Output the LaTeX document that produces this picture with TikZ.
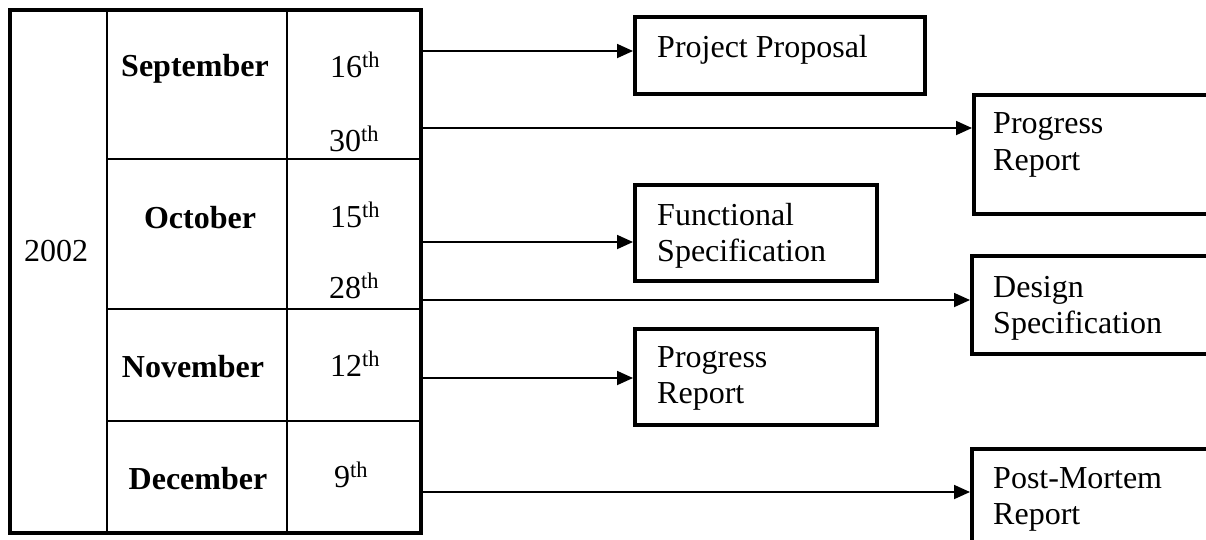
\documentclass[tikz,border=0pt]{standalone}
\usepackage{fontspec}
\setmainfont{Liberation Serif}
\usetikzlibrary{arrows.meta}
\begin{document}
\begin{tikzpicture}[x=1pt,y=-1pt,
  outerline/.style={line width=4pt},
  gridline/.style={line width=2pt},
  box/.style={draw,line width=4pt,rectangle,inner sep=0pt,anchor=north west},
  lbl/.style={font=\fontsize{32}{37}\selectfont,anchor=base west,inner sep=0pt},
  cell/.style={font=\fontsize{32}{37}\selectfont,anchor=base,inner sep=0pt},
  month/.style={cell,font=\fontsize{32}{37}\selectfont\bfseries},
  conn/.style={line width=1.8pt,-{Triangle[length=16pt,width=14pt]}}]
\path[use as bounding box] (0,0) rectangle (1206,539);
\clip (0,0) rectangle (1206,539);
% table
\draw[outerline] (10,10) rectangle (421,533);
\draw[gridline] (107,10) -- (107,533);
\draw[gridline] (287,10) -- (287,533);
\draw[gridline] (107,159) -- (421,159);
\draw[gridline] (107,309) -- (421,309);
\draw[gridline] (107,421) -- (421,421);
\node[cell] (year) at (56,261) {2002};
\node[month] (sep) at (195,76) {September};
\node[month] (oct) at (200,228) {October};
\node[month] (nov) at (193,377) {November};
\node[month] (dec) at (198,489) {December};
\node[cell] (d16) at (355,77) {16\textsuperscript{th}};
\node[cell] (d30) at (354,151) {30\textsuperscript{th}};
\node[cell] (d15) at (355,227) {15\textsuperscript{th}};
\node[cell] (d28) at (354,298) {28\textsuperscript{th}};
\node[cell] (d12) at (355,376) {12\textsuperscript{th}};
\node[cell] (d9) at (351,487) {9\textsuperscript{th}};
% boxes
\node[box,minimum width=290pt,minimum height=77pt] (pp) at (633,15) {};
\node[box,minimum width=270pt,minimum height=119pt] (pra) at (972,93) {};
\node[box,minimum width=242pt,minimum height=96pt] (fs) at (633,183) {};
\node[box,minimum width=270pt,minimum height=98pt] (ds) at (970,254) {};
\node[box,minimum width=242pt,minimum height=96pt] (prb) at (633,327) {};
\node[box,minimum width=270pt,minimum height=120pt] (pm) at (970,447) {};
\node[lbl] (ppt) at (657,57) {Project Proposal};
\node[lbl] (prat1) at (993,133) {Progress};
\node[lbl] (prat2) at (993,170) {Report};
\node[lbl] (fst1) at (657,225) {Functional};
\node[lbl] (fst2) at (657,261) {Specification};
\node[lbl] (prbt1) at (657,367) {Progress};
\node[lbl] (prbt2) at (657,403) {Report};
\node[lbl] (dst1) at (993,297) {Design};
\node[lbl] (dst2) at (993,333) {Specification};
\node[lbl] (pmt1) at (993,488) {Post-Mortem};
\node[lbl] (pmt2) at (993,524) {Report};
% connectors
\coordinate (s1) at (421,51);
\coordinate (s2) at (421,128);
\coordinate (s3) at (421,242);
\coordinate (s4) at (421,300);
\coordinate (s5) at (421,378);
\coordinate (s6) at (421,492);
\draw[conn] (s1) -- (s1 -| pp.west);
\draw[conn] (s2) -- (s2 -| pra.west);
\draw[conn] (s3) -- (s3 -| fs.west);
\draw[conn] (s4) -- (s4 -| ds.west);
\draw[conn] (s5) -- (s5 -| prb.west);
\draw[conn] (s6) -- (s6 -| pm.west);
\end{tikzpicture}
\end{document}
